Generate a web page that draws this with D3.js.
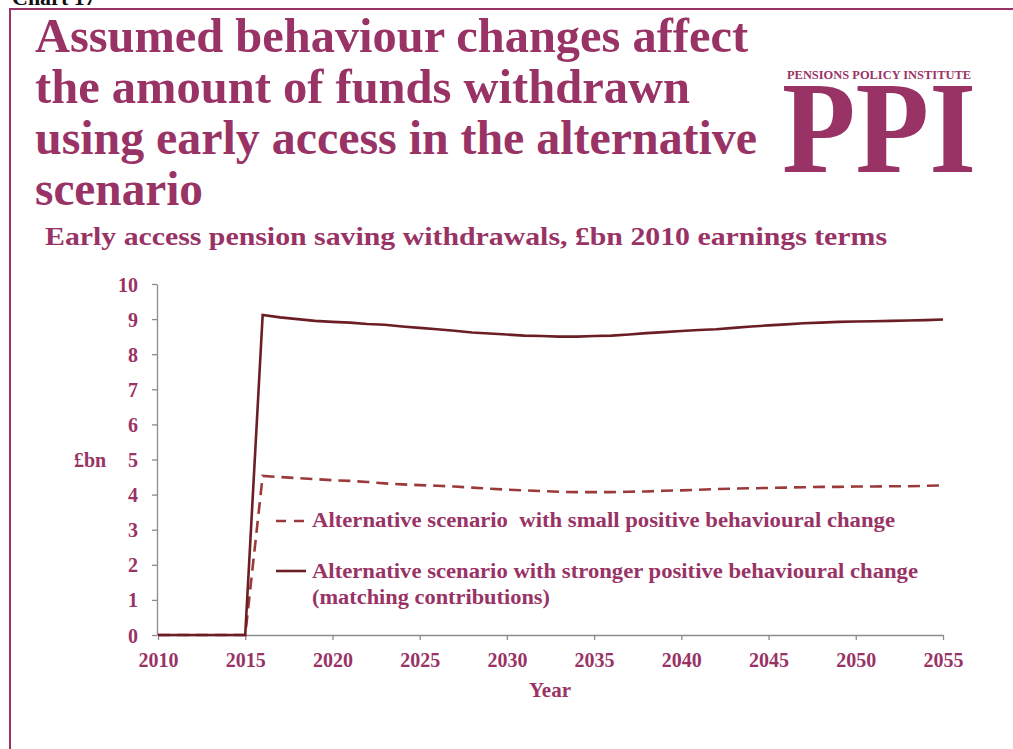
<!DOCTYPE html>
<html>
<head>
<meta charset="utf-8">
<script src="https://cdn.jsdelivr.net/npm/d3@7"></script>
<style>
  html, body { margin: 0; padding: 0; background: #fff; }
  svg { display: block; }
  text { font-family: "Liberation Serif", "DejaVu Serif", serif; font-weight: bold; }
</style>
</head>
<body>
<svg id="chart" width="1013" height="749"></svg>
<script>
// Years and series values (£bn, 2010 earnings terms)
const years = d3.range(2010, 2056);
const smallChange = [
  0, 0, 0, 0, 0, 0,
  4.53, 4.50, 4.47, 4.44, 4.41, 4.39, 4.36, 4.32, 4.29, 4.27,
  4.25, 4.23, 4.20, 4.17, 4.14, 4.12, 4.10, 4.08, 4.07, 4.07,
  4.07, 4.08, 4.09, 4.11, 4.12, 4.14, 4.16, 4.17, 4.18, 4.19,
  4.20, 4.21, 4.22, 4.22, 4.23, 4.23, 4.24, 4.24, 4.25, 4.26
];
const strongerChange = [
  0, 0, 0, 0, 0, 0,
  9.12, 9.05, 9.00, 8.95, 8.92, 8.90, 8.86, 8.84, 8.79, 8.75,
  8.71, 8.67, 8.62, 8.59, 8.56, 8.53, 8.52, 8.50, 8.50, 8.52,
  8.53, 8.56, 8.60, 8.63, 8.66, 8.69, 8.71, 8.75, 8.79, 8.82,
  8.85, 8.88, 8.90, 8.92, 8.93, 8.94, 8.95, 8.96, 8.97, 8.99
];
const xTicks = [2010, 2015, 2020, 2025, 2030, 2035, 2040, 2045, 2050, 2055];
const yTicks = [0, 1, 2, 3, 4, 5, 6, 7, 8, 9, 10];
const titleLines = [
  "Assumed behaviour changes affect",
  "the amount of funds withdrawn",
  "using early access in the alternative",
  "scenario"
];
const subtitle = "Early access pension saving withdrawals, £bn 2010 earnings terms";
const legendLabels = [
  ["Alternative scenario  with small positive behavioural change"],
  ["Alternative scenario with stronger positive behavioural change", "(matching contributions)"]
];

const plum = "#993366";
const darkRed = "#6b1f24";
const midRed = "#9b3a3a";
const axisGrey = "#8c8c8c";

const svg = d3.select("#chart");

// Page frame
svg.append("text").attr("x", 12).attr("y", 5)
  .attr("font-size", 22).attr("fill", "#111").style("white-space", "pre")
  .text("Chart 17");
svg.append("rect").attr("x", 10).attr("y", 9).attr("width", 1020).attr("height", 760)
  .attr("fill", "none").attr("stroke", plum).attr("stroke-width", 2);

// Title block
const titleWidths = [713, 655, 722, 168];
titleLines.forEach((t, i) => {
  svg.append("text").attr("x", 35).attr("y", 52 + i * 51)
    .attr("font-size", 48).attr("fill", plum)
    .attr("textLength", titleWidths[i]).attr("lengthAdjust", "spacingAndGlyphs")
    .text(t);
});
svg.append("text").attr("x", 45).attr("y", 245)
  .attr("font-size", 25).attr("fill", plum)
  .attr("textLength", 842).attr("lengthAdjust", "spacingAndGlyphs")
  .text(subtitle);

// Logo
svg.append("text").attr("x", 787).attr("y", 79)
  .attr("font-size", 12.5).attr("fill", plum)
  .attr("textLength", 184).attr("lengthAdjust", "spacingAndGlyphs")
  .text("PENSIONS POLICY INSTITUTE");
svg.append("text").attr("x", 782).attr("y", 172)
  .attr("font-size", 132).attr("fill", plum)
  .attr("textLength", 194).attr("lengthAdjust", "spacingAndGlyphs")
  .text("PPI");

// Scales
const x = d3.scaleLinear().domain([2010, 2055]).range([158, 943]);
const y = d3.scaleLinear().domain([0, 10]).range([635, 284]);

// Axes
const yAxis = svg.append("g").attr("transform", "translate(157,0)")
  .call(d3.axisLeft(y).tickValues(yTicks).tickSize(5).tickSizeOuter(0).tickPadding(14));
const xAxis = svg.append("g").attr("transform", "translate(0,635)")
  .call(d3.axisBottom(x).tickValues(xTicks).tickFormat(d3.format("d")).tickSize(5).tickSizeOuter(0).tickPadding(9));
[yAxis, xAxis].forEach(g => {
  g.select(".domain").attr("stroke", axisGrey).attr("stroke-width", 1.3);
  g.selectAll(".tick line").attr("stroke", axisGrey).attr("stroke-width", 1.3);
  g.selectAll(".tick text").attr("fill", plum).attr("font-size", 20)
    .attr("font-family", "'Liberation Serif', serif").attr("font-weight", "bold");
});
xAxis.selectAll(".tick text").attr("dy", "0.9em");
yAxis.selectAll(".tick text").attr("dy", "0.35em");

svg.append("text").attr("x", 550).attr("y", 697).attr("text-anchor", "middle")
  .attr("font-size", 21).attr("fill", plum).text("Year");
svg.append("text").attr("x", 74).attr("y", 467)
  .attr("font-size", 20).attr("fill", plum).text("£bn");

// Lines
const line = d3.line().x((d, i) => x(years[i])).y(d => y(d));
svg.append("path").datum(smallChange).attr("d", line)
  .attr("fill", "none").attr("stroke", midRed).attr("stroke-width", 2.6)
  .attr("stroke-dasharray", "12,7");
svg.append("path").datum(strongerChange).attr("d", line)
  .attr("fill", "none").attr("stroke", darkRed).attr("stroke-width", 2.6);

// Legend
const lg = svg.append("g");
lg.append("line").attr("x1", 276).attr("x2", 304).attr("y1", 521).attr("y2", 521)
  .attr("stroke", midRed).attr("stroke-width", 2.6).attr("stroke-dasharray", "10,8");
lg.append("line").attr("x1", 276).attr("x2", 306).attr("y1", 571).attr("y2", 571)
  .attr("stroke", darkRed).attr("stroke-width", 2.6);
const legendWidths = [[583], [606, 238]];
legendLabels.forEach((lines, i) => {
  lines.forEach((t, j) => {
    lg.append("text").attr("x", 312).attr("y", 527 + i * 51 + j * 26)
      .attr("font-size", 20).attr("fill", plum).style("white-space", "pre")
      .attr("textLength", legendWidths[i][j]).attr("lengthAdjust", "spacingAndGlyphs")
      .text(t);
  });
});
</script>
</body>
</html>
